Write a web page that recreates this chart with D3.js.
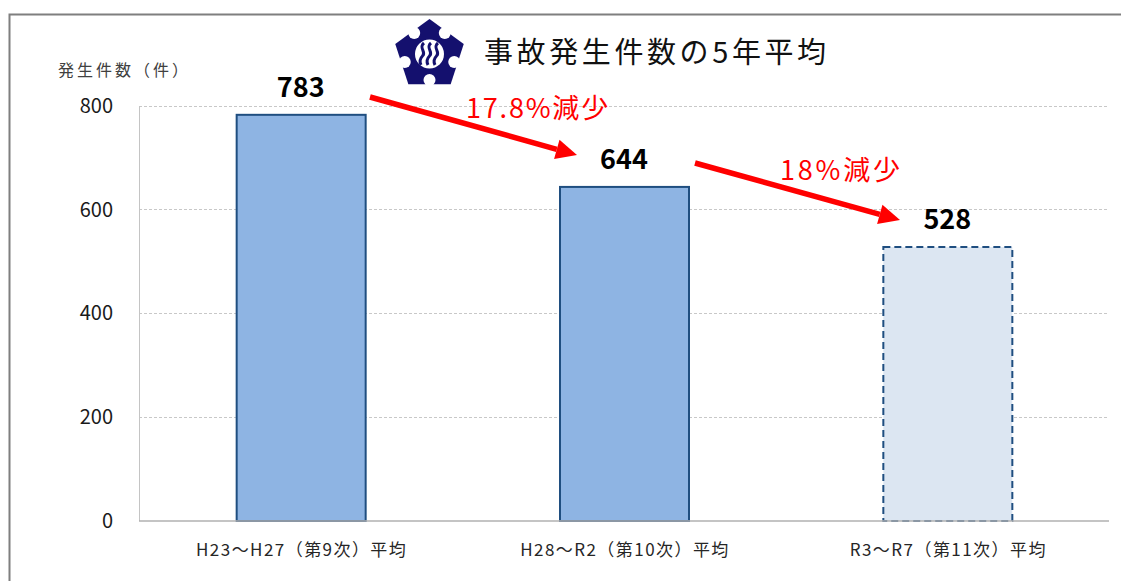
<!DOCTYPE html>
<html><head><meta charset="utf-8">
<script src="https://cdn.jsdelivr.net/npm/d3@7/dist/d3.min.js"></script>
<style>
html,body{margin:0;padding:0;background:#fff}
svg{display:block}
text{font-family:"Noto Sans CJK JP","Noto Sans",sans-serif}
</style></head><body><div id="c"></div>
<script>
const categories = ["H23〜H27（第9次）平均","H28〜R2（第10次）平均","R3〜R7（第11次）平均"];
const values = [783,644,528];
const projected = [false,false,true];
const yTicks = [0,200,400,600,800];
const titleText = "事故発生件数の5年平均";
const yAxisTitle = "発生件数（件）";
const arrowLabels = ["17.8%減少","18%減少"];

const W=1121,H=581;
const svg=d3.select("#c").append("svg").attr("width",W).attr("height",H);
const x=d3.scaleBand().domain(categories).range([139,1109]).paddingInner(0.6).paddingOuter(0.3);
const y=d3.scaleLinear().domain([0,800]).range([521,106]);

// outer frame
svg.append("path").attr("d",`M${W},14.5H9.5V${H}`).attr("fill","none").attr("stroke","#7f7f7f").attr("stroke-width",2);

// gridlines
svg.append("g").selectAll("line").data(yTicks.filter(d=>d>0)).join("line")
 .attr("x1",139).attr("x2",1109).attr("y1",d=>Math.floor(y(d))+.5).attr("y2",d=>Math.floor(y(d))+.5)
 .attr("stroke","#c8c8c8").attr("stroke-dasharray","3 2");
svg.append("line").attr("x1",139.5).attr("x2",139.5).attr("y1",106).attr("y2",521).attr("stroke","#c4c4c4");

// y axis
const yAxis=svg.append("g").attr("transform","translate(113,-0.7)").call(d3.axisLeft(y).tickValues(yTicks).tickSize(0).tickPadding(0));
yAxis.select(".domain").remove();
yAxis.selectAll("text").attr("font-size",20).attr("fill","#1a1a1a").attr("font-family","'Noto Sans',sans-serif").attr("dy","0.35em");

// bars
const barW=129;
svg.append("g").selectAll("rect").data(values).join("rect")
 .attr("x",(d,i)=>x(categories[i])+x.bandwidth()/2-barW/2+0.5)
 .attr("width",barW)
 .attr("y",d=>y(d)).attr("height",d=>y(0)-y(d))
 .attr("fill",(d,i)=>projected[i]?"#dce6f2":"#8eb4e3")
 .attr("stroke","#1f4e80").attr("stroke-width",2)
 .attr("stroke-dasharray",(d,i)=>projected[i]?"7 4":null);

// x axis line
svg.append("line").attr("x1",139).attr("x2",1109).attr("y1",521).attr("y2",521).attr("stroke","#b0b0b0").attr("stroke-width",1.5);

// category labels
svg.append("g").selectAll("text").data(categories).join("text")
 .attr("x",d=>x(d)+x.bandwidth()/2+1).attr("y",556)
 .attr("text-anchor","middle").attr("font-size",17).attr("letter-spacing",1.45).attr("fill","#262626").text(d=>d);

// value labels
svg.append("g").selectAll("text").data(values).join("text")
 .attr("x",(d,i)=>x(categories[i])+x.bandwidth()/2).attr("y",d=>y(d)-18)
 .attr("text-anchor","middle").attr("font-size",27).attr("font-weight",700)
 .attr("font-family","'Noto Sans',sans-serif").attr("fill","#000").text(d=>d);

// y axis title
svg.append("text").attr("x",58).attr("y",76).attr("font-size",16).attr("fill","#404040").attr("letter-spacing",3).text(yAxisTitle);

// title
svg.append("text").attr("x",484).attr("y",63).attr("font-size",29).attr("fill","#111").attr("letter-spacing",3.6).text(titleText);

// logo
const logo=svg.append("g").attr("transform","translate(429.5,54)");
const navy="#14106e";
const pent=d3.range(5).map(i=>{const a=-Math.PI/2+i*2*Math.PI/5;return [36*Math.cos(a),36*Math.sin(a)+1];});
logo.append("path").attr("d",d3.line()(pent)+"Z").attr("fill",navy);
d3.range(5).forEach(i=>{
  const a=-Math.PI/2+Math.PI/5+i*2*Math.PI/5;
  logo.append("circle").attr("cx",26*Math.cos(a)).attr("cy",26*Math.sin(a)).attr("r",6).attr("fill","#fff");
});
logo.append("circle").attr("cx",0).attr("cy",0).attr("r",14.5).attr("fill","#fff");
[-7,0,7].forEach(dx=>{
  logo.append("path").attr("d",`M${dx+1.5},-11 C${dx-4.5},-6 ${dx+4.5},-2 ${dx},2 C${dx-3},5 ${dx-3},8 ${dx-1.5},11`)
   .attr("fill","none").attr("stroke",navy).attr("stroke-width",3);
});

// arrows
function arrow(x1,y1,x2,y2){
  const dx=x2-x1,dy=y2-y1,L=Math.hypot(dx,dy),ux=dx/L,uy=dy/L,nx=-uy,ny=ux;
  const hl=21,hw=10;
  const bx=x2-ux*hl,by=y2-uy*hl;
  svg.append("line").attr("x1",x1).attr("y1",y1).attr("x2",bx).attr("y2",by).attr("stroke","#ff0000").attr("stroke-width",5.5);
  svg.append("path").attr("d",`M${x2},${y2}L${bx+nx*hw},${by+ny*hw}L${bx-nx*hw},${by-ny*hw}Z`).attr("fill","#ff0000");
}
arrow(370,97,577,155);
arrow(695,163,900,220);
svg.append("text").attr("x",466).attr("y",118).attr("font-size",27).attr("letter-spacing",1.8).attr("fill","#ff0000").text(arrowLabels[0]);
svg.append("text").attr("x",780).attr("y",180).attr("font-size",27).attr("letter-spacing",2.8).attr("fill","#ff0000").text(arrowLabels[1]);
</script></body></html>
